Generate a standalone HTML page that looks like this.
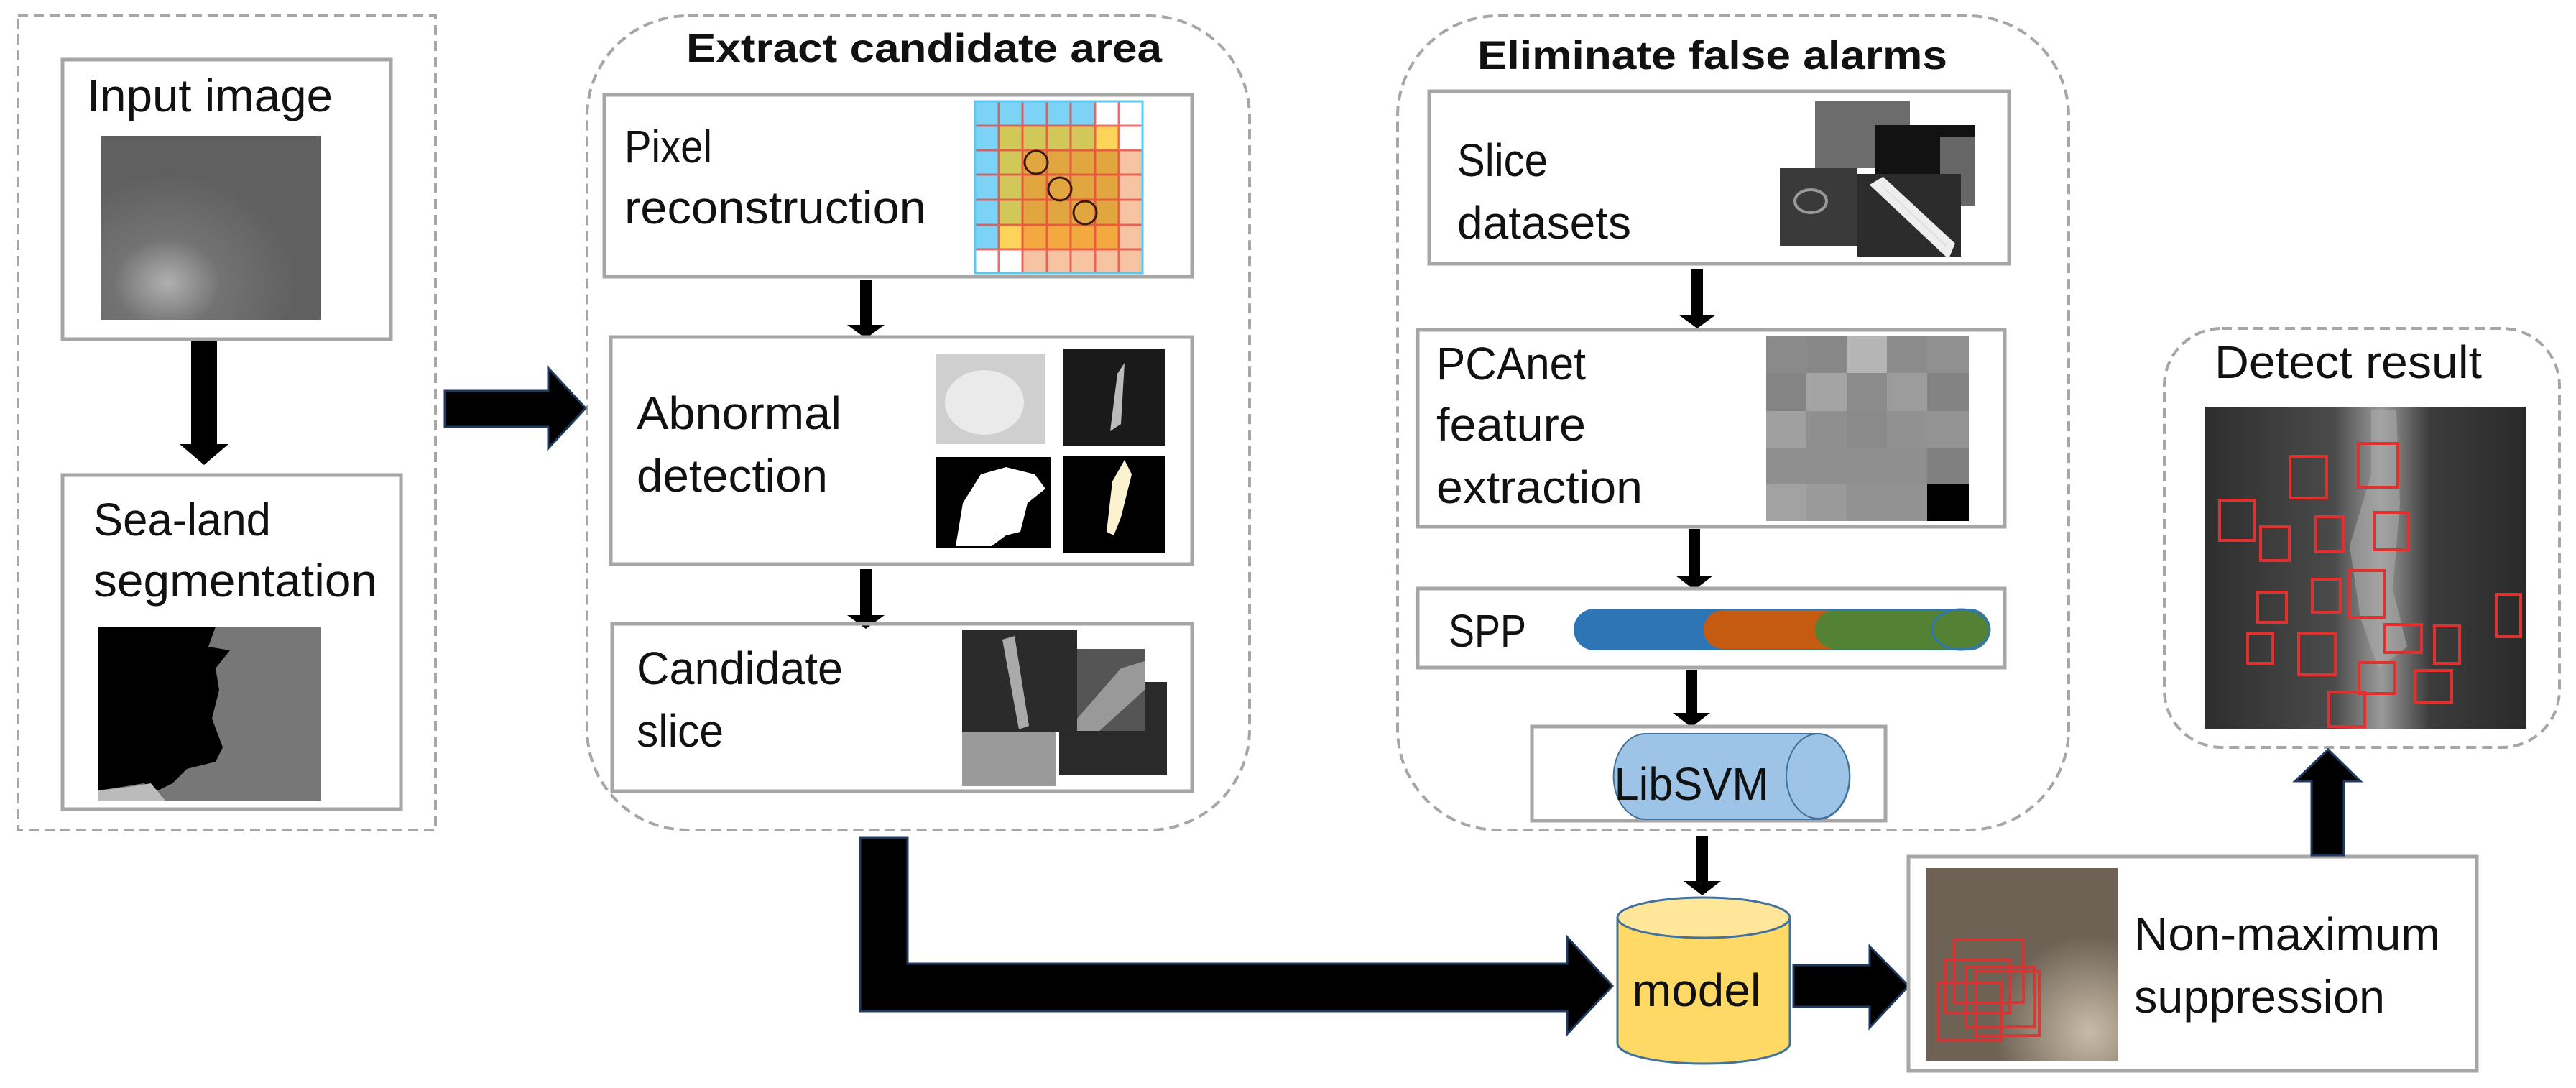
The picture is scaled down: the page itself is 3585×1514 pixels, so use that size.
<!DOCTYPE html>
<html><head><meta charset="utf-8"><style>
html,body{margin:0;padding:0;background:#fff;}
svg{display:block;}
text{font-family:"Liberation Sans",Arial,sans-serif;fill:#111;}
</style></head><body>
<svg width="3585" height="1514" viewBox="0 0 3585 1514" xmlns="http://www.w3.org/2000/svg">
<defs>
<radialGradient id="gIn" cx="0.3" cy="0.8" r="0.6"><stop offset="0" stop-color="#d8d8d8"/><stop offset="0.4" stop-color="#7a7a7a"/><stop offset="1" stop-color="#5c5c5c"/></radialGradient>
<linearGradient id="gDet" x1="0" y1="0" x2="1" y2="0"><stop offset="0" stop-color="#2e2e2e"/><stop offset="0.4" stop-color="#4a4a4a"/><stop offset="0.55" stop-color="#9a9a9a"/><stop offset="0.7" stop-color="#3c3c3c"/><stop offset="1" stop-color="#2a2a2a"/></linearGradient>
<radialGradient id="gNms" cx="0.85" cy="0.85" r="0.5"><stop offset="0" stop-color="#c9bba8"/><stop offset="1" stop-color="#6d6254"/></radialGradient>
<linearGradient id="gCylY" x1="0" y1="0" x2="1" y2="0"><stop offset="0" stop-color="#f7d35e"/><stop offset="1" stop-color="#fbd866"/></linearGradient>
</defs>

<!-- dashed containers -->
<rect x="25" y="22" width="581" height="1133" fill="none" stroke="#a6a6a6" stroke-width="4" stroke-dasharray="14 8"/>
<rect x="817" y="22" width="922" height="1133" rx="140" fill="none" stroke="#a6a6a6" stroke-width="4" stroke-dasharray="14 8"/>
<rect x="1945" y="22" width="934" height="1133" rx="140" fill="none" stroke="#a6a6a6" stroke-width="4" stroke-dasharray="14 8"/>
<rect x="3012" y="457" width="550" height="583" rx="80" fill="none" stroke="#a6a6a6" stroke-width="4" stroke-dasharray="14 8"/>

<!-- Input image -->
<rect x="87" y="83" width="457" height="389" fill="none" stroke="#a6a6a6" stroke-width="5"/>
<text x="121" y="155" font-size="64" textLength="342" lengthAdjust="spacingAndGlyphs">Input image</text>
<rect x="141" y="189" width="306" height="256" fill="url(#gIn)"/>
<rect x="141" y="189" width="306" height="256" fill="#666" opacity="0.35"/>

<!-- down arrow left -->
<path d="M266,475 H302 V618 H318 L284,647 L250,618 H266 Z" fill="#000"/>

<!-- Sea-land -->
<rect x="87" y="661" width="471" height="465" fill="none" stroke="#a6a6a6" stroke-width="5"/>
<text x="130" y="745" font-size="64" textLength="247" lengthAdjust="spacingAndGlyphs">Sea-land</text>
<text x="130" y="830" font-size="64" textLength="395" lengthAdjust="spacingAndGlyphs">segmentation</text>
<rect x="137" y="872" width="310" height="242" fill="#777"/>
<path d="M137,872 H300 L290,900 L320,905 L300,930 L305,960 L295,1000 L310,1040 L300,1060 L260,1070 L240,1090 L220,1100 L200,1090 L170,1095 L137,1100 Z" fill="#000"/>
<path d="M137,1100 L180,1095 L210,1090 L230,1114 H137 Z" fill="#bbb"/>

<!-- big right arrow -->
<path d="M619,544 H763 V512 L815,568 L763,624 V594 H619 Z" fill="#000" stroke="#1f3a60" stroke-width="3"/>

<!-- Extract candidate area -->
<text x="1286" y="86" font-size="56" font-weight="bold" text-anchor="middle" textLength="662" lengthAdjust="spacingAndGlyphs">Extract candidate area</text>
<rect x="841" y="132" width="818" height="253" fill="none" stroke="#a6a6a6" stroke-width="5"/>
<text x="869" y="226" font-size="64" textLength="122" lengthAdjust="spacingAndGlyphs">Pixel</text>
<text x="869" y="311" font-size="64" textLength="420" lengthAdjust="spacingAndGlyphs">reconstruction</text>
<g>
<!-- grid 7x7: x 1357 step 33.3, y 141 step 34.1 -->
<g stroke="none">
<rect x="1357" y="141" width="167" height="34" fill="#7dd3f5"/>
<rect x="1357" y="175" width="33" height="172" fill="#7dd3f5"/>
<rect x="1390" y="175" width="134" height="34" fill="#d2c85a"/>
<rect x="1524" y="175" width="33" height="34" fill="#fcd45a"/>
<rect x="1390" y="209" width="33" height="104" fill="#d2c85a"/>
<rect x="1423" y="209" width="134" height="104" fill="#e2a640"/>
<rect x="1390" y="313" width="33" height="34" fill="#fcd45a"/>
<rect x="1423" y="313" width="134" height="34" fill="#f3a940"/>
<rect x="1557" y="209" width="33" height="171" fill="#f6c4a2"/>
<rect x="1423" y="347" width="134" height="33" fill="#f6c4a2"/>
</g>
<g stroke="#e8403a" stroke-width="3" opacity="0.75">
<line x1="1357" y1="175" x2="1590" y2="175"/><line x1="1357" y1="209" x2="1590" y2="209"/><line x1="1357" y1="243" x2="1590" y2="243"/><line x1="1357" y1="278" x2="1590" y2="278"/><line x1="1357" y1="313" x2="1590" y2="313"/><line x1="1357" y1="347" x2="1590" y2="347"/>
<line x1="1390" y1="141" x2="1390" y2="380"/><line x1="1423" y1="141" x2="1423" y2="380"/><line x1="1457" y1="141" x2="1457" y2="380"/><line x1="1490" y1="141" x2="1490" y2="380"/><line x1="1524" y1="141" x2="1524" y2="380"/><line x1="1557" y1="141" x2="1557" y2="380"/>
</g>
<rect x="1357" y="141" width="233" height="239" fill="none" stroke="#5cc8f0" stroke-width="3"/>
<g fill="none" stroke="#3a1a10" stroke-width="3"><circle cx="1442" cy="226" r="16"/><circle cx="1475" cy="263" r="16"/><circle cx="1510" cy="296" r="16"/></g>
</g>

<path d="M1197,389 H1213 V452 H1231 L1205,471 L1179,452 H1197 Z" fill="#000"/>

<rect x="850" y="469" width="809" height="316" fill="none" stroke="#a6a6a6" stroke-width="5"/>
<text x="886" y="597" font-size="64" textLength="285" lengthAdjust="spacingAndGlyphs">Abnormal</text>
<text x="886" y="684" font-size="64" textLength="266" lengthAdjust="spacingAndGlyphs">detection</text>
<rect x="1302" y="493" width="153" height="125" fill="#cfcfcf"/>
<ellipse cx="1370" cy="560" rx="55" ry="45" fill="#f0f0f0" opacity="0.8"/>
<rect x="1480" y="485" width="141" height="136" fill="#1a1a1a"/>
<path d="M1545,600 L1555,520 L1565,505 L1560,590 Z" fill="#bbb"/>
<rect x="1302" y="636" width="161" height="127" fill="#000"/>
<path d="M1330,760 L1340,700 L1365,660 L1400,650 L1440,660 L1455,680 L1430,700 L1420,740 L1400,745 L1380,760 Z" fill="#fff"/>
<rect x="1480" y="634" width="141" height="135" fill="#000"/>
<path d="M1540,740 L1548,670 L1565,640 L1575,660 L1560,720 L1550,745 Z" fill="#fbf3d0"/>

<path d="M1197,792 H1213 V856 H1231 L1205,875 L1179,856 H1197 Z" fill="#000"/>

<rect x="852" y="868" width="807" height="233" fill="none" stroke="#a6a6a6" stroke-width="5"/>
<text x="886" y="952" font-size="64" textLength="287" lengthAdjust="spacingAndGlyphs">Candidate</text>
<text x="886" y="1039" font-size="64" textLength="121" lengthAdjust="spacingAndGlyphs">slice</text>
<rect x="1474" y="949" width="150" height="130" fill="#2a2a2a"/>
<rect x="1339" y="1019" width="130" height="75" fill="#9a9a9a"/>
<rect x="1499" y="903" width="94" height="114" fill="#555"/>
<path d="M1499,1000 L1560,930 L1593,920 L1593,960 L1530,1017 H1499 Z" fill="#999"/>
<rect x="1339" y="876" width="160" height="143" fill="#2b2b2b"/>
<path d="M1395,890 L1412,885 L1432,1010 L1418,1015 Z" fill="#aaa"/>

<!-- L arrow -->
<path d="M1197,1166 H1263 V1341 H2181 V1304 L2244,1372 L2181,1439 V1407 H1197 Z" fill="#000" stroke="#1f3a60" stroke-width="3"/>

<!-- Eliminate false alarms -->
<text x="2383" y="96" font-size="56" font-weight="bold" text-anchor="middle" textLength="654" lengthAdjust="spacingAndGlyphs">Eliminate false alarms</text>
<rect x="1989" y="127" width="807" height="240" fill="none" stroke="#a6a6a6" stroke-width="5"/>
<text x="2028" y="245" font-size="64" textLength="126" lengthAdjust="spacingAndGlyphs">Slice</text>
<text x="2028" y="332" font-size="64" textLength="242" lengthAdjust="spacingAndGlyphs">datasets</text>
<rect x="2526" y="140" width="132" height="94" fill="#6c6c6c"/>
<rect x="2610" y="174" width="138" height="112" fill="#121212"/>
<rect x="2700" y="190" width="48" height="96" fill="#666"/>
<rect x="2477" y="234" width="108" height="108" fill="#3a3a3a"/>
<ellipse cx="2520" cy="280" rx="22" ry="16" fill="none" stroke="#999" stroke-width="4"/>
<rect x="2585" y="242" width="144" height="115" fill="#2c2c2c"/>
<path d="M2610,258 L2620,252 L2715,340 L2710,352 Z" fill="#ddd" stroke="#eee" stroke-width="10"/>

<path d="M2354,374 H2370 V438 H2388 L2362,457 L2336,438 H2354 Z" fill="#000"/>

<rect x="1973" y="459" width="817" height="274" fill="none" stroke="#a6a6a6" stroke-width="5"/>
<text x="1999" y="528" font-size="64" textLength="208" lengthAdjust="spacingAndGlyphs">PCAnet</text>
<text x="1999" y="613" font-size="64" textLength="208" lengthAdjust="spacingAndGlyphs">feature</text>
<text x="1999" y="700" font-size="64" textLength="287" lengthAdjust="spacingAndGlyphs">extraction</text>
<g>
<rect x="2458" y="467" width="282" height="258" fill="#8f8f8f"/>
<rect x="2458" y="467" width="56" height="52" fill="#8a8a8a"/><rect x="2514" y="467" width="56" height="52" fill="#878787"/><rect x="2570" y="467" width="56" height="52" fill="#b5b5b5"/><rect x="2626" y="467" width="56" height="52" fill="#8c8c8c"/><rect x="2682" y="467" width="58" height="52" fill="#909090"/>
<rect x="2458" y="519" width="56" height="53" fill="#848484"/><rect x="2514" y="519" width="56" height="53" fill="#a4a4a4"/><rect x="2570" y="519" width="56" height="53" fill="#8c8c8c"/><rect x="2626" y="519" width="56" height="53" fill="#9c9c9c"/><rect x="2682" y="519" width="58" height="53" fill="#838383"/>
<rect x="2458" y="572" width="56" height="51" fill="#a0a0a0"/><rect x="2514" y="572" width="56" height="51" fill="#8f8f8f"/><rect x="2570" y="572" width="56" height="51" fill="#8a8a8a"/><rect x="2626" y="572" width="56" height="51" fill="#919191"/><rect x="2682" y="572" width="58" height="51" fill="#939393"/>
<rect x="2458" y="623" width="282" height="51" fill="#8f8f8f"/><rect x="2682" y="623" width="58" height="51" fill="#808080"/>
<rect x="2458" y="674" width="56" height="51" fill="#a2a2a2"/><rect x="2514" y="674" width="56" height="51" fill="#9a9a9a"/><rect x="2570" y="674" width="112" height="51" fill="#929292"/><rect x="2682" y="674" width="58" height="51" fill="#000"/>
</g>

<path d="M2350,736 H2366 V801 H2384 L2358,821 L2332,801 H2350 Z" fill="#000"/>

<rect x="1973" y="819" width="817" height="110" fill="none" stroke="#a6a6a6" stroke-width="5"/>
<text x="2016" y="900" font-size="64" textLength="108" lengthAdjust="spacingAndGlyphs">SPP</text>
<rect x="2190" y="847" width="580" height="58" rx="29" fill="#2e75b6"/>
<rect x="2371" y="849" width="399" height="54" rx="27" fill="#c55a11"/>
<rect x="2526" y="849" width="244" height="54" rx="27" fill="#548235"/>
<ellipse cx="2729" cy="876" rx="40" ry="28" fill="#548235" stroke="#2e75b6" stroke-width="3"/>

<path d="M2346,932 H2362 V992 H2380 L2354,1012 L2328,992 H2346 Z" fill="#000"/>

<rect x="2132" y="1011" width="492" height="131" fill="none" stroke="#a6a6a6" stroke-width="5"/>
<path d="M2290,1021 H2530 A44,59 0 0 1 2530,1140 H2290 A44,59 0 0 1 2290,1021 Z" fill="#9dc3e6" stroke="#41719c" stroke-width="2"/>
<ellipse cx="2530" cy="1080" rx="44" ry="59" fill="#9dc3e6" stroke="#41719c" stroke-width="2"/>
<text x="2354" y="1113" font-size="64" text-anchor="middle" textLength="215" lengthAdjust="spacingAndGlyphs">LibSVM</text>

<path d="M2361,1164 H2377 V1226 H2395 L2369,1246 L2343,1226 H2361 Z" fill="#000"/>

<!-- model cylinder -->
<path d="M2251,1277 V1452 A120,28 0 0 0 2491,1452 V1277 Z" fill="#ffd966" stroke="#41719c" stroke-width="3"/>
<ellipse cx="2371" cy="1277" rx="120" ry="28" fill="#ffe699" stroke="#41719c" stroke-width="3"/>
<text x="2361" y="1400" font-size="64" text-anchor="middle" textLength="179" lengthAdjust="spacingAndGlyphs">model</text>

<path d="M2496,1343 H2602 V1317 L2656,1372 L2602,1430 V1401 H2496 Z" fill="#000" stroke="#1f3a60" stroke-width="3"/>

<!-- NMS -->
<rect x="2656" y="1192" width="791" height="298" fill="none" stroke="#a6a6a6" stroke-width="5"/>
<rect x="2681" y="1208" width="267" height="268" fill="url(#gNms)"/>
<g fill="none" stroke="#e03030" stroke-width="4" opacity="0.85">
<rect x="2720" y="1307" width="96" height="88"/><rect x="2708" y="1335" width="89" height="75"/><rect x="2735" y="1346" width="96" height="83"/><rect x="2749" y="1352" width="89" height="89"/><rect x="2697" y="1368" width="88" height="80"/>
</g>
<text x="2970" y="1322" font-size="64" textLength="426" lengthAdjust="spacingAndGlyphs">Non-maximum</text>
<text x="2970" y="1409" font-size="64" textLength="349" lengthAdjust="spacingAndGlyphs">suppression</text>

<path d="M3217,1190 H3262 V1087 H3285 L3240,1043 L3194,1087 H3217 Z" fill="#000" stroke="#1f3a60" stroke-width="3"/>

<!-- Detect result -->
<text x="3268" y="526" font-size="64" text-anchor="middle" textLength="372" lengthAdjust="spacingAndGlyphs">Detect result</text>
<rect x="3069" y="566" width="446" height="449" fill="url(#gDet)"/>
<path d="M3300,570 L3335,570 L3340,700 L3330,820 L3350,900 L3310,930 L3285,860 L3270,760 L3300,660 Z" fill="#aaa" opacity="0.6"/>
<g fill="none" stroke="#e03030" stroke-width="4">
<rect x="3187" y="635" width="51" height="58"/><rect x="3282" y="617" width="55" height="61"/><rect x="3089" y="696" width="48" height="56"/><rect x="3146" y="733" width="40" height="47"/><rect x="3223" y="719" width="39" height="49"/><rect x="3304" y="713" width="48" height="52"/><rect x="3218" y="806" width="39" height="46"/><rect x="3270" y="794" width="48" height="65"/><rect x="3142" y="824" width="40" height="42"/><rect x="3474" y="827" width="34" height="59"/><rect x="3319" y="869" width="51" height="39"/><rect x="3388" y="871" width="35" height="52"/><rect x="3128" y="881" width="35" height="42"/><rect x="3199" y="882" width="51" height="57"/><rect x="3283" y="922" width="50" height="43"/><rect x="3361" y="933" width="51" height="44"/><rect x="3241" y="963" width="50" height="48"/>
</g>
</svg>
</body></html>
